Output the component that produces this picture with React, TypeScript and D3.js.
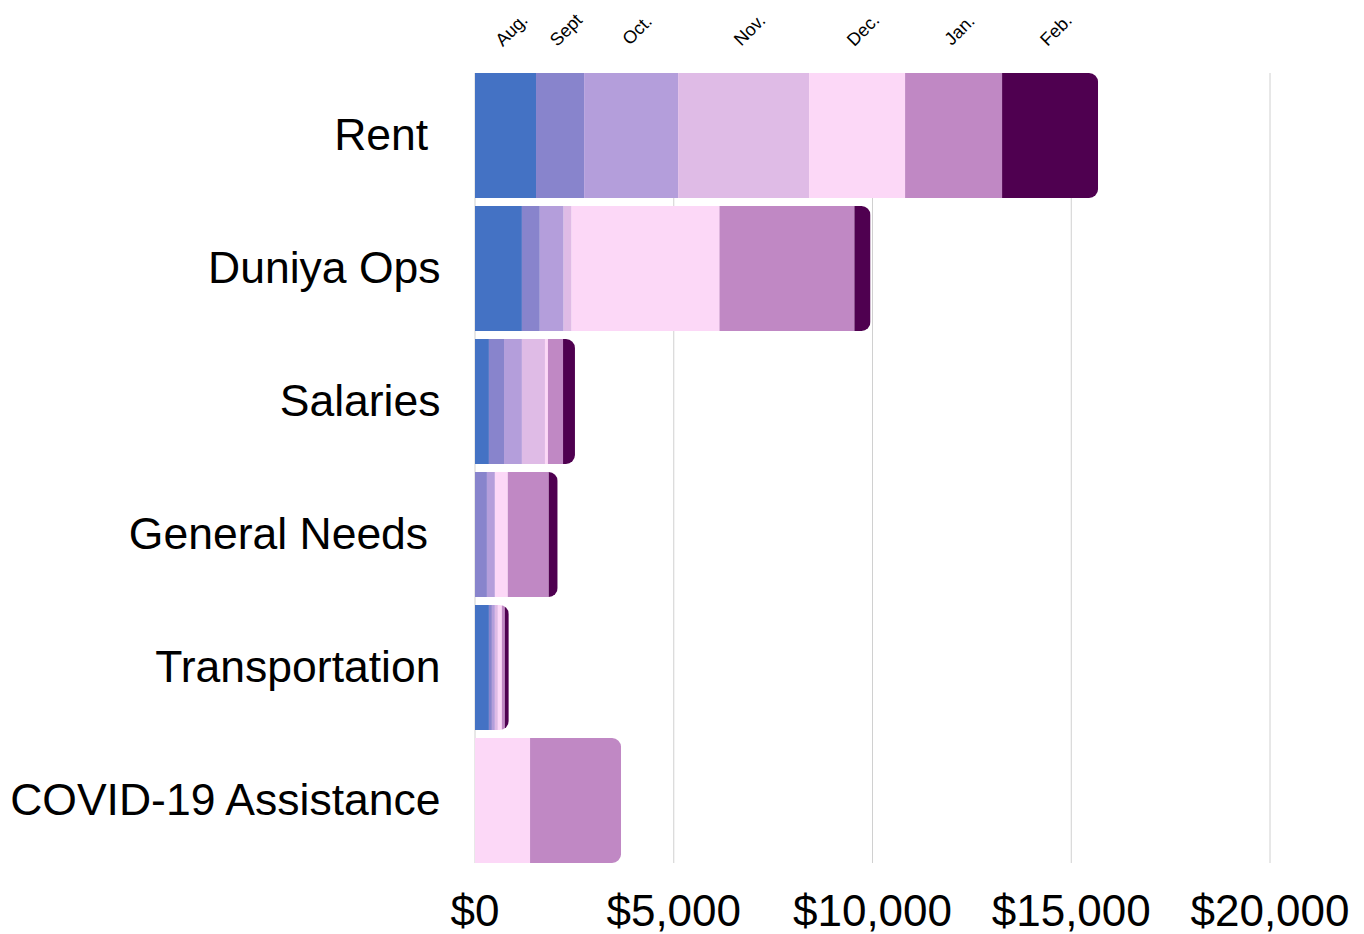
import React from "react";
import * as d3 from "d3";

const categories = ["Rent ", "Duniya Ops", "Salaries", "General Needs ", "Transportation", "COVID-19 Assistance"];
const months = ["Aug.", "Sept", "Oct.", "Nov.", "Dec.", "Jan.", "Feb."];
const aug = [1535, 1180, 350, 0, 350, 0];
const sept = [1210, 450, 380, 300, 75, 0];
const oct = [2365, 600, 450, 200, 75, 0];
const nov = [3295, 200, 580, 0, 75, 0];
const dec = [2415, 3720, 75, 325, 100, 1385];
const jan = [2440, 3395, 380, 1030, 75, 2290];
const feb = [2415, 405, 300, 225, 100, 0];
const monthColors = ["#4472c4", "#8884cc", "#b49edb", "#dfbbe6", "#fcd8f7", "#c088c4", "#4f0050"];
const xTicks = [0, 5000, 10000, 15000, 20000];

const series = [aug, sept, oct, nov, dec, jan, feb];

export default function App() {
  const W = 1364, H = 934;
  const x = d3.scaleLinear().domain([0, 20000]).range([475, 1270]);
  const y = d3
    .scaleBand<string>()
    .domain(categories)
    .range([69, 867])
    .paddingInner(8 / 133)
    .paddingOuter(4 / 133);

  const table = categories.map((c, i) => {
    const row: any = { cat: c };
    months.forEach((m, j) => (row[m] = series[j][i]));
    return row;
  });
  const stacked = d3.stack<any>().keys(months)(table);
  const fmt = (v: number) => "$" + d3.format(",")(v);
  const r = 9;

  const clipPath = (x0: number, x1: number, y0: number, h: number) => {
    const rr = Math.min(r, (x1 - x0));
    const p = d3.path();
    p.moveTo(x0, y0);
    p.lineTo(x1 - rr, y0);
    p.arcTo(x1, y0, x1, y0 + rr, rr);
    p.lineTo(x1, y0 + h - rr);
    p.arcTo(x1, y0 + h, x1 - rr, y0 + h, rr);
    p.lineTo(x0, y0 + h);
    p.closePath();
    return p.toString();
  };

  const rentIdx = 0;

  return (
    <svg
      width={W}
      height={H}
      style={{ position: "absolute", left: 0, top: 0, background: "#fff" }}
      fontFamily="'Liberation Sans', Arial, sans-serif"
    >
      <defs>
        {categories.map((c, i) => {
          const total = d3.sum(series, (s) => s[i]);
          return (
            <clipPath id={`clip${i}`} key={i}>
              <path d={clipPath(x(0), x(total), y(c)!, y.bandwidth())} />
            </clipPath>
          );
        })}
      </defs>
      {xTicks.map((t) => (
        <line key={t} x1={x(t)} x2={x(t)} y1={73} y2={863} stroke="#d0d0d0" strokeWidth={1} />
      ))}
      {categories.map((c, i) => (
        <g key={c} clipPath={`url(#clip${i})`}>
          {stacked.map((s, j) => {
            const d = s[i];
            const w = x(d[1]) - x(d[0]);
            if (w <= 0) return null;
            return (
              <rect
                key={j}
                x={x(d[0])}
                y={y(c)!}
                width={w}
                height={y.bandwidth()}
                fill={monthColors[j]}
              />
            );
          })}
        </g>
      ))}
      {categories.map((c) => (
        <text
          key={c}
          x={440.5}
          y={y(c)! + y.bandwidth() / 2 + 14}
          textAnchor="end"
          fontSize={44.5}
          fill="#000"
          style={{ whiteSpace: "pre" }}
          xmlSpace="preserve"
        >
          {c}
        </text>
      ))}
      {xTicks.map((t) => (
        <text key={t} x={x(t)} y={926} textAnchor="middle" fontSize={44} fill="#000">
          {fmt(t)}
        </text>
      ))}
      {stacked.map((s, j) => {
        const d = s[rentIdx];
        const cx = (x(d[0]) + x(d[1])) / 2 + 6;
        const cy = 30;
        return (
          <text
            key={j}
            x={cx}
            y={cy}
            fontSize={18}
            textAnchor="middle"
            dominantBaseline="central"
            transform={`rotate(-45 ${cx} ${cy})`}
            fill="#000"
          >
            {months[j]}
          </text>
        );
      })}
    </svg>
  );
}
